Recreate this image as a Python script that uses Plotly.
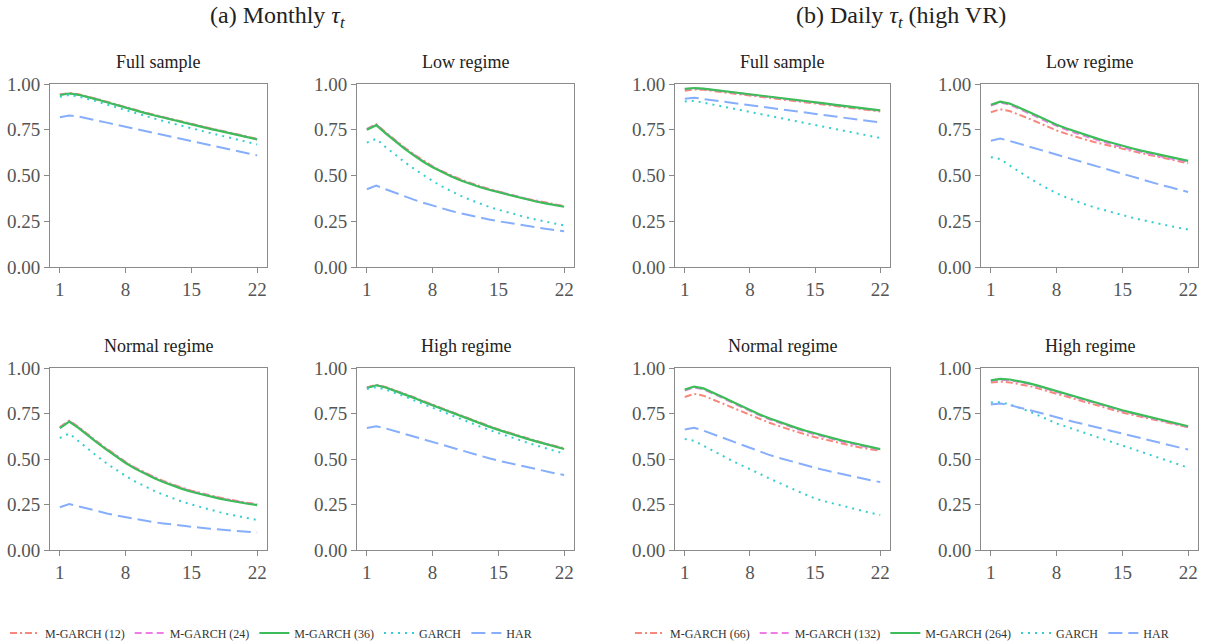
import plotly.graph_objects as go

W, H = 1208, 644
FONT = "Liberation Serif"

# ---------------- data ----------------
horizons = list(range(1, 23))
x_ticks = [1, 8, 15, 22]
y_ticks = [0.0, 0.25, 0.5, 0.75, 1.0]

models_a = ["M-GARCH (12)", "M-GARCH (24)", "M-GARCH (36)", "GARCH", "HAR"]
models_b = ["M-GARCH (66)", "M-GARCH (132)", "M-GARCH (264)", "GARCH", "HAR"]
panel_titles = ["Full sample", "Low regime", "Normal regime", "High regime"]
group_titles = ["(a) Monthly <i>τ</i><sub><i>t</i></sub>",
                "(b) Daily <i>τ</i><sub><i>t</i></sub> (high VR)"]

# (a) Monthly tau_t
a_full_m12 = [.942, .951, .944, .932, .918, .903, .888, .872, .858, .845, .832, .819, .806, .794, .782, .770, .758, .747, .735, .724, .712, .700]
a_full_m24 = [.941, .949, .942, .930, .916, .901, .886, .870, .856, .843, .830, .817, .804, .792, .780, .768, .756, .745, .733, .722, .710, .698]
a_full_m36 = [.940, .948, .941, .929, .915, .900, .885, .869, .855, .842, .829, .816, .803, .791, .779, .767, .755, .744, .732, .721, .709, .697]
a_full_garch = [.930, .940, .932, .919, .904, .888, .872, .856, .841, .826, .812, .798, .784, .771, .758, .745, .732, .720, .707, .695, .683, .670]
a_full_har = [.818, .828, .822, .812, .800, .789, .777, .766, .754, .743, .731, .720, .709, .698, .687, .676, .665, .654, .643, .632, .621, .610]

a_low_m12 = [.755, .780, .736, .693, .653, .616, .581, .550, .523, .499, .478, .459, .442, .427, .413, .398, .385, .373, .362, .352, .342, .333]
a_low_m24 = [.752, .778, .733, .690, .650, .613, .578, .548, .520, .496, .475, .456, .439, .424, .411, .396, .383, .371, .360, .350, .340, .331]
a_low_m36 = [.750, .775, .730, .687, .647, .610, .575, .545, .518, .494, .473, .454, .437, .422, .409, .394, .381, .369, .358, .348, .338, .329]
a_low_garch = [.680, .700, .655, .613, .574, .537, .502, .470, .440, .413, .389, .367, .347, .329, .313, .298, .284, .271, .259, .248, .237, .227]
a_low_har = [.425, .445, .425, .405, .386, .368, .351, .335, .320, .306, .293, .281, .270, .260, .250, .241, .232, .224, .216, .209, .202, .195]

a_norm_m12 = [.675, .711, .676, .634, .594, .556, .519, .484, .453, .426, .402, .380, .360, .342, .326, .312, .299, .288, .277, .267, .259, .252]
a_norm_m24 = [.672, .708, .673, .631, .591, .553, .516, .481, .450, .423, .399, .377, .357, .339, .323, .309, .296, .285, .275, .265, .257, .250]
a_norm_m36 = [.670, .705, .670, .628, .588, .550, .513, .478, .447, .420, .396, .374, .354, .336, .320, .306, .293, .282, .272, .262, .254, .247]
a_norm_garch = [.615, .640, .598, .555, .514, .475, .440, .407, .377, .350, .326, .304, .284, .266, .250, .235, .221, .208, .196, .185, .175, .165]
a_norm_har = [.235, .253, .240, .226, .213, .201, .190, .180, .170, .161, .153, .146, .139, .133, .127, .122, .117, .112, .108, .104, .100, .096]

a_high_m12 = [.893, .908, .896, .878, .859, .839, .818, .798, .777, .757, .737, .718, .699, .681, .663, .646, .630, .615, .600, .586, .572, .558]
a_high_m24 = [.891, .906, .894, .876, .857, .837, .816, .796, .775, .755, .735, .716, .697, .679, .661, .644, .628, .613, .598, .584, .570, .556]
a_high_m36 = [.890, .905, .893, .875, .856, .836, .815, .795, .774, .754, .734, .715, .696, .678, .660, .643, .627, .612, .597, .583, .569, .555]
a_high_garch = [.885, .895, .882, .864, .844, .823, .802, .781, .760, .739, .718, .698, .679, .660, .642, .624, .607, .591, .575, .560, .545, .530]
a_high_har = [.670, .680, .668, .653, .638, .622, .606, .590, .575, .560, .545, .531, .517, .504, .491, .479, .467, .455, .444, .433, .422, .412]

# (b) Daily tau_t (high VR)
b_full_m66 = [.963, .970, .968, .962, .956, .949, .943, .937, .931, .924, .918, .912, .906, .899, .893, .887, .881, .874, .868, .862, .856, .850]
b_full_m132 = [.971, .976, .973, .967, .961, .954, .948, .942, .936, .929, .923, .917, .910, .904, .898, .892, .885, .879, .873, .867, .860, .854]
b_full_m264 = [.973, .978, .975, .969, .963, .956, .950, .944, .938, .931, .925, .919, .912, .906, .900, .894, .887, .881, .875, .869, .862, .856]
b_full_garch = [.905, .908, .898, .888, .877, .867, .857, .847, .837, .827, .816, .806, .796, .786, .776, .766, .755, .745, .735, .725, .715, .705]
b_full_har = [.920, .925, .918, .911, .905, .898, .891, .884, .878, .871, .864, .857, .851, .844, .837, .830, .824, .817, .810, .803, .797, .790]

b_low_m66 = [.846, .862, .852, .833, .812, .790, .768, .746, .729, .712, .697, .683, .670, .657, .645, .633, .622, .611, .600, .590, .578, .567]
b_low_m132 = [.882, .899, .888, .866, .842, .818, .793, .770, .751, .732, .715, .699, .683, .668, .654, .641, .629, .617, .605, .594, .584, .575]
b_low_m264 = [.887, .903, .893, .872, .849, .825, .800, .777, .758, .740, .723, .707, .691, .676, .662, .649, .636, .624, .612, .601, .590, .580]
b_low_garch = [.600, .590, .555, .521, .489, .458, .429, .402, .381, .361, .343, .326, .311, .297, .283, .270, .258, .246, .235, .224, .214, .205]
b_low_har = [.690, .702, .689, .674, .658, .642, .627, .612, .597, .582, .567, .551, .536, .521, .506, .492, .478, .464, .450, .437, .423, .410]

b_norm_m66 = [.841, .858, .848, .827, .805, .783, .761, .740, .720, .701, .683, .666, .649, .634, .620, .607, .595, .583, .572, .562, .553, .545]
b_norm_m132 = [.876, .893, .883, .861, .837, .812, .787, .763, .741, .720, .701, .683, .666, .650, .635, .621, .608, .595, .583, .571, .560, .549]
b_norm_m264 = [.881, .898, .888, .866, .842, .817, .792, .768, .746, .725, .706, .688, .671, .655, .640, .626, .613, .600, .588, .576, .565, .554]
b_norm_garch = [.610, .600, .573, .545, .518, .492, .468, .446, .420, .395, .371, .348, .326, .304, .283, .268, .254, .241, .228, .216, .204, .192]
b_norm_har = [.662, .672, .656, .637, .617, .597, .577, .558, .541, .524, .508, .493, .479, .465, .452, .439, .427, .415, .404, .393, .383, .373]

b_high_m66 = [.920, .925, .921, .913, .902, .888, .873, .857, .842, .827, .812, .797, .783, .769, .755, .743, .731, .719, .708, .697, .686, .675]
b_high_m132 = [.928, .936, .933, .925, .913, .899, .884, .868, .852, .836, .821, .806, .792, .778, .764, .751, .738, .725, .713, .701, .688, .676]
b_high_m264 = [.932, .940, .937, .929, .917, .903, .888, .872, .856, .840, .825, .810, .796, .782, .768, .755, .742, .729, .717, .705, .692, .680]
b_high_garch = [.810, .812, .800, .783, .763, .741, .718, .695, .678, .661, .644, .627, .610, .592, .575, .557, .540, .522, .505, .487, .470, .452]
b_high_har = [.800, .805, .796, .784, .771, .757, .743, .728, .715, .702, .690, .677, .665, .652, .640, .627, .614, .602, .589, .577, .564, .552]

panels_a = [
    [a_full_m12, a_full_m24, a_full_m36, a_full_garch, a_full_har],
    [a_low_m12, a_low_m24, a_low_m36, a_low_garch, a_low_har],
    [a_norm_m12, a_norm_m24, a_norm_m36, a_norm_garch, a_norm_har],
    [a_high_m12, a_high_m24, a_high_m36, a_high_garch, a_high_har],
]
panels_b = [
    [b_full_m66, b_full_m132, b_full_m264, b_full_garch, b_full_har],
    [b_low_m66, b_low_m132, b_low_m264, b_low_garch, b_low_har],
    [b_norm_m66, b_norm_m132, b_norm_m264, b_norm_garch, b_norm_har],
    [b_high_m66, b_high_m132, b_high_m264, b_high_garch, b_high_har],
]

# ---------------- styles ----------------
line_styles = [
    dict(color="#f8877c", dash="7px,3px,2px,3px", width=2),
    dict(color="#f07de6", dash="7px,4px", width=2),
    dict(color="#3dbd5a", dash="solid", width=2.2),
    dict(color="#35cdd0", dash="2px,5px", width=2),
    dict(color="#86aefc", dash="14px,6px", width=2),
]

# panel pixel boxes: (left, right, top, bottom)
col_px = [(50, 267), (357, 574), (675, 890), (981, 1198)]
row_px = [(84, 267), (368, 550)]

def xdom(c):
    return [col_px[c][0] / W, col_px[c][1] / W]

def ydom(r):
    return [1 - row_px[r][1] / H, 1 - row_px[r][0] / H]

fig = go.Figure()
layout = {}
annotations = []

panel_specs = []
for g in range(2):
    for p in range(4):
        col = g * 2 + (p % 2)
        row = p // 2
        panel_specs.append((g, p, col, row))

for k, (g, p, col, row) in enumerate(panel_specs):
    idx = k + 1
    xa = "x" if idx == 1 else f"x{idx}"
    ya = "y" if idx == 1 else f"y{idx}"
    data = panels_a[p] if g == 0 else panels_b[p]
    names = models_a if g == 0 else models_b
    for m in range(5):
        fig.add_trace(go.Scatter(
            x=horizons, y=data[m], mode="lines", name=names[m],
            line=line_styles[m], xaxis=xa, yaxis=ya,
            legend="legend" if g == 0 else "legend2",
            showlegend=(p == 0),
        ))
    axis_common = dict(
        showline=True, linecolor="#8a8a8a", linewidth=1.1, mirror=True,
        ticks="outside", ticklen=5, tickwidth=1.1, tickcolor="#8a8a8a",
        showgrid=False, zeroline=False,
        tickfont=dict(family=FONT, size=19, color="#555555"),
    )
    layout["xaxis" if idx == 1 else f"xaxis{idx}"] = dict(
        domain=xdom(col), anchor=ya, range=[-0.05, 23.05],
        tickmode="array", tickvals=x_ticks, ticktext=[str(v) for v in x_ticks],
        **axis_common)
    layout["yaxis" if idx == 1 else f"yaxis{idx}"] = dict(
        domain=ydom(row), anchor=xa, range=[0, 1],
        tickmode="array", tickvals=y_ticks, ticktext=[f"{v:.2f}" for v in y_ticks],
        **axis_common)
    cx = (col_px[col][0] + col_px[col][1]) / 2 / W
    ty = 1 - (row_px[row][0] - 22) / H
    annotations.append(dict(
        text=panel_titles[p], x=cx, y=ty, xref="paper", yref="paper",
        xanchor="center", yanchor="middle", showarrow=False,
        font=dict(family=FONT, size=18, color="#222222")))

for g, cxp in enumerate([277, 901]):
    annotations.append(dict(
        text=group_titles[g], x=cxp / W, y=1 - 17 / H, xref="paper", yref="paper",
        xanchor="center", yanchor="middle", showarrow=False,
        font=dict(family=FONT, size=24, color="#222222")))

legend_common = dict(
    orientation="h", yanchor="middle", xanchor="left",
    font=dict(family=FONT, size=12, color="#333333"),
    bgcolor="rgba(0,0,0,0)", itemwidth=30,
)

fig.update_layout(
    width=W, height=H,
    margin=dict(l=0, r=0, t=0, b=0, autoexpand=False),
    paper_bgcolor="white", plot_bgcolor="white",
    annotations=annotations,
    legend=dict(x=5 / W, y=1 - 633 / H, **legend_common),
    legend2=dict(x=630 / W, y=1 - 633 / H, **legend_common),
    **layout,
)

fig.write_html("out.html", config={"displayModeBar": False},
               post_script="document.body.style.margin='0';document.body.style.padding='0';")
